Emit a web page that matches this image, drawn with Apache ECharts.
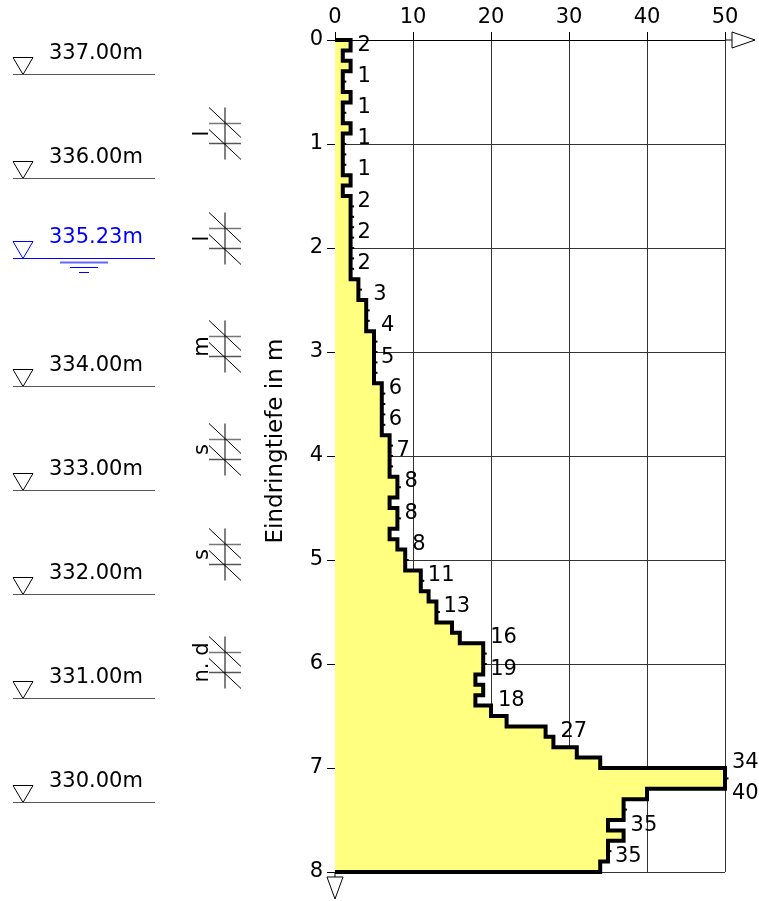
<!DOCTYPE html>
<html>
<head>
<meta charset="utf-8">
<style>
  html, body { margin: 0; padding: 0; background: #fff; }
  #chart { width: 759px; height: 901px; }
</style>
<script src="https://cdn.jsdelivr.net/npm/echarts@6/dist/echarts.min.js"></script>
</head>
<body>
<div id="chart"></div>
<script>
// blows per 10 cm, 0.0 m .. 8.0 m
const blows = [
  2, 1, 2, 1, 1, 2, 1, 1, 2, 1,
  1, 1, 1, 2, 1, 2, 2, 2, 2, 2,
  2, 2, 2, 3, 3, 4, 4, 4, 5, 5,
  5, 5, 5, 6, 6, 6, 6, 6, 7, 7,
  7, 7, 8, 8, 7, 8, 8, 7, 8, 9,
  9, 11, 11, 12, 13, 13, 15, 16, 19, 19,
  19, 18, 19, 18, 20, 22, 27, 28, 31, 34,
  50, 50, 40, 37, 37, 35, 37, 35, 35, 34
];
const stepLen = 0.1;
const labelEvery = 3;

const surface = 337.33;
const levels = [337, 336, 334, 333, 332, 331, 330];
const waterLevel = 335.23;

const layerDepths = [0.89, 1.9, 2.94, 3.93, 4.94, 5.98];
const layerTags = ['l', 'l', 'm', 's', 's', 'n. d'];

const FONT = 'DejaVu Sans';

// outline of the step profile
const outline = [[0, 0]];
blows.forEach(function (b, i) {
  outline.push([b, +(i * stepLen).toFixed(2)], [b, +((i + 1) * stepLen).toFixed(2)]);
});
outline.push([0, +(blows.length * stepLen).toFixed(2)]);

// value labels, every third interval, placed right of the local maximum
const labelPts = [];
blows.forEach(function (b, i) {
  if (i % labelEvery !== 0) return;
  const reach = Math.max(i > 0 ? blows[i - 1] : 0, b, i < blows.length - 1 ? blows[i + 1] : 0);
  labelPts.push({ value: [reach, +((i + 0.5) * stepLen).toFixed(2)], label: { formatter: String(b) } });
});

const chart = echarts.init(document.getElementById('chart'));

const option = {
  animation: false,
  backgroundColor: '#fff',
  grid: { left: 335, right: 34, top: 40, bottom: 29 },
  xAxis: {
    type: 'value',
    position: 'top',
    min: 0,
    max: 50,
    interval: 10,
    axisLine: { show: true, lineStyle: { color: '#000', width: 1 } },
    axisTick: { show: true, length: 8, lineStyle: { color: '#000' } },
    axisLabel: { color: '#000', fontSize: 21, fontFamily: FONT, margin: 12 },
    splitLine: { show: true, lineStyle: { color: '#333', width: 1 } }
  },
  yAxis: {
    type: 'value',
    inverse: true,
    min: 0,
    max: 8,
    interval: 1,
    name: 'Eindringtiefe in m',
    nameLocation: 'middle',
    nameRotate: 90,
    nameGap: 47,
    nameTextStyle: { color: '#000', fontSize: 23, fontFamily: FONT, padding: [0, 0, 0, 30] },
    axisLine: { show: true, lineStyle: { color: '#000', width: 1 } },
    axisTick: { show: true, length: 8, lineStyle: { color: '#000' } },
    axisLabel: { color: '#000', fontSize: 21, fontFamily: FONT, margin: 12 },
    splitLine: { show: true, lineStyle: { color: '#333', width: 1 } }
  },
  series: [
    {
      type: 'custom',
      coordinateSystem: 'cartesian2d',
      silent: true,
      data: [[0, 0]],
      z: 3,
      renderItem: function (params, api) {
        const pts = outline.map(function (p) { return api.coord(p); });
        const kids = [
          { type: 'polygon', shape: { points: pts }, style: { fill: '#ffff80', stroke: null } },
          { type: 'polyline', shape: { points: pts }, style: { fill: null, stroke: '#000', lineWidth: 4 } }
        ];
        // little tick marks where the count does not change
        for (let i = 1; i < blows.length; i++) {
          if (blows[i] !== blows[i - 1]) continue;
          const c = api.coord([blows[i], i * stepLen]);
          kids.push({ type: 'rect', shape: { x: c[0] + 1, y: c[1] - 1, width: 2.5, height: 2 }, style: { fill: '#000' } });
        }
        return { type: 'group', children: kids };
      }
    },
    {
      type: 'scatter',
      silent: true,
      clip: false,
      symbolSize: 0,
      itemStyle: { color: '#000', opacity: 1 },
      z: 4,
      label: {
        show: true,
        position: 'right',
        distance: 7,
        color: '#000',
        opacity: 1,
        textBorderWidth: 0,
        fontSize: 21,
        fontFamily: FONT
      },
      data: labelPts
    }
  ]
};

chart.setOption(option);

// decorations: axis arrows, elevation marks, layer symbols
function px(v) { return chart.convertToPixel({ xAxisIndex: 0 }, v); }
function py(d) { return chart.convertToPixel({ yAxisIndex: 0 }, d); }

const g = [];
const x0 = px(0), x50 = px(50), y0 = py(0), y8 = py(8);

g.push({ type: 'line', shape: { x1: x50, y1: y0, x2: x50 + 7, y2: y0 }, style: { stroke: '#000', lineWidth: 1 } });
g.push({ type: 'polygon', shape: { points: [[x50 + 7, y0 - 8], [x50 + 30, y0], [x50 + 7, y0 + 8]] }, style: { fill: '#fff', stroke: '#000', lineWidth: 1 } });
g.push({ type: 'line', shape: { x1: x0, y1: y8, x2: x0, y2: y8 + 5 }, style: { stroke: '#000', lineWidth: 1 } });
g.push({ type: 'polygon', shape: { points: [[x0 - 8, y8 + 5], [x0 + 8, y8 + 5], [x0, y8 + 27]] }, style: { fill: '#fff', stroke: '#000', lineWidth: 1 } });

function elevMark(elev, color, lineColor) {
  const y = Math.round(py(surface - elev)) + 0.5;
  g.push({ type: 'polygon', shape: { points: [[13, y - 17], [33, y - 17], [23, y]] }, style: { fill: null, stroke: color, lineWidth: 1 } });
  g.push({ type: 'line', shape: { x1: 13, y1: y, x2: 155, y2: y }, style: { stroke: lineColor, lineWidth: 1 } });
  g.push({ type: 'text', x: 49, y: y - 21, style: { text: elev.toFixed(2) + 'm', fill: color, font: '21px "' + FONT + '"', verticalAlign: 'middle' } });
  return y;
}
levels.forEach(function (e) { elevMark(e, '#000', '#555'); });
const wy = elevMark(waterLevel, '#0000ff', '#0000ff');
g.push({ type: 'line', shape: { x1: 60, y1: wy + 4, x2: 108, y2: wy + 4 }, style: { stroke: '#6666ff', lineWidth: 2 } });
g.push({ type: 'line', shape: { x1: 70, y1: wy + 9, x2: 98, y2: wy + 9 }, style: { stroke: '#0000ff', lineWidth: 1 } });
g.push({ type: 'line', shape: { x1: 79, y1: wy + 14, x2: 89, y2: wy + 14 }, style: { stroke: '#0000ff', lineWidth: 1 } });

layerDepths.forEach(function (d, k) {
  const c = Math.round(py(d)) + 0.5;
  g.push({ type: 'line', shape: { x1: 209, y1: c - 10, x2: 241, y2: c - 10 }, style: { stroke: '#777', lineWidth: 1.5 } });
  g.push({ type: 'line', shape: { x1: 209, y1: c + 10, x2: 241, y2: c + 10 }, style: { stroke: '#555', lineWidth: 1.5 } });
  g.push({ type: 'line', shape: { x1: 225, y1: c - 26, x2: 225, y2: c + 26 }, style: { stroke: '#000', lineWidth: 1 } });
  g.push({ type: 'line', shape: { x1: 209, y1: c - 26, x2: 241, y2: c + 4 }, style: { stroke: '#000', lineWidth: 1 } });
  g.push({ type: 'line', shape: { x1: 209, y1: c - 4, x2: 241, y2: c + 26 }, style: { stroke: '#000', lineWidth: 1 } });
  g.push({ type: 'text', x: 203, y: c, rotation: Math.PI / 2, style: { text: layerTags[k], fill: '#000', font: '21px "' + FONT + '"', align: 'center', verticalAlign: 'middle' } });
});

chart.setOption({ graphic: g });
</script>
</body>
</html>
